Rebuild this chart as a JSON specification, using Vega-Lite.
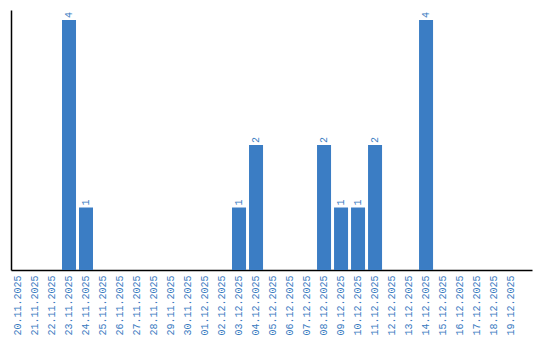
{
  "$schema": "https://vega.github.io/schema/vega-lite/v6.json",
  "width": 521,
  "height": 260,
  "autosize": "none",
  "padding": {"left": 11, "top": 10, "right": 8, "bottom": 70},
  "background": "white",
  "config": {"view": {"stroke": null}, "font": "Liberation Mono"},
  "data": {"values": [
    {"date": "20.11.2025", "count": 0},
    {"date": "21.11.2025", "count": 0},
    {"date": "22.11.2025", "count": 0},
    {"date": "23.11.2025", "count": 4},
    {"date": "24.11.2025", "count": 1},
    {"date": "25.11.2025", "count": 0},
    {"date": "26.11.2025", "count": 0},
    {"date": "27.11.2025", "count": 0},
    {"date": "28.11.2025", "count": 0},
    {"date": "29.11.2025", "count": 0},
    {"date": "30.11.2025", "count": 0},
    {"date": "01.12.2025", "count": 0},
    {"date": "02.12.2025", "count": 0},
    {"date": "03.12.2025", "count": 1},
    {"date": "04.12.2025", "count": 2},
    {"date": "05.12.2025", "count": 0},
    {"date": "06.12.2025", "count": 0},
    {"date": "07.12.2025", "count": 0},
    {"date": "08.12.2025", "count": 2},
    {"date": "09.12.2025", "count": 1},
    {"date": "10.12.2025", "count": 1},
    {"date": "11.12.2025", "count": 2},
    {"date": "12.12.2025", "count": 0},
    {"date": "13.12.2025", "count": 0},
    {"date": "14.12.2025", "count": 4},
    {"date": "15.12.2025", "count": 0},
    {"date": "16.12.2025", "count": 0},
    {"date": "17.12.2025", "count": 0},
    {"date": "18.12.2025", "count": 0},
    {"date": "19.12.2025", "count": 0}
  ]},
  "encoding": {
    "x": {
      "field": "date", "type": "ordinal", "sort": null,
      "scale": {"paddingInner": 0.176, "paddingOuter": 0.41, "align": 0},
      "axis": {
        "title": null, "labelAngle": -90, "labelColor": "#3a7bbf", "labelFontSize": 10,
        "labelPadding": 5, "ticks": false, "domainColor": "black", "domainWidth": 1.5, "grid": false
      }
    },
    "y": {
      "field": "count", "type": "quantitative",
      "scale": {"domain": [0, 4.16], "nice": false},
      "axis": {"title": null, "labels": false, "ticks": false, "grid": false, "domainColor": "black", "domainWidth": 1.5}
    }
  },
  "layer": [
    {"mark": {"type": "bar", "color": "#3b7dc4"}},
    {
      "transform": [{"filter": "datum.count > 0"}],
      "mark": {"type": "text", "angle": -90, "align": "left", "baseline": "middle", "dx": 2, "color": "#3a7bbf", "fontSize": 10},
      "encoding": {"text": {"field": "count", "type": "quantitative"}}
    }
  ]
}
